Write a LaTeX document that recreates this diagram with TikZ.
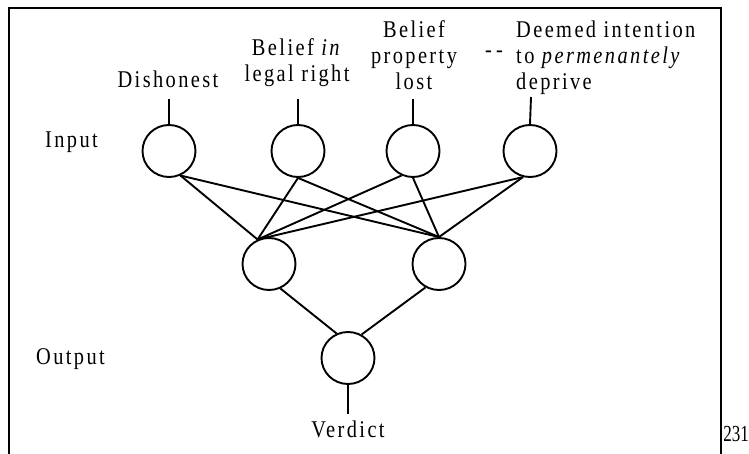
\documentclass[tikz,border=0pt]{standalone}
\usepackage{fontspec}
\setmainfont[LetterSpace=10,FakeStretch=0.85]{Liberation Serif}
\newfontfamily\plainnum[FakeStretch=0.74]{Liberation Serif}
\usetikzlibrary{shapes.geometric}
\begin{document}
\begin{tikzpicture}[x=1pt,y=-1pt,
  unit/.style={ellipse,draw,line width=1.9pt,minimum width=53pt,minimum height=52pt,inner sep=0pt},
  lbl/.style={font=\fontsize{24}{27}\selectfont,inner sep=0pt,align=center},
  link/.style={line width=1.9pt}]
\useasboundingbox (0,0) rectangle (749,454);
% frame
\draw[line width=1.6pt] (9,454) -- (9,8) -- (721,8) -- (721,454);
\node[font=\plainnum\fontsize{23}{26}\selectfont,inner sep=0pt,anchor=base east] (pg) at (749,441) {231};
% units
\node[unit] (i1) at (169,151) {};
\node[unit] (i2) at (298,151) {};
\node[unit] (i3) at (413,151) {};
\node[unit] (i4) at (530,151) {};
\node[unit] (h1) at (269,264) {};
\node[unit] (h2) at (439,264) {};
\node[unit] (o) at (348,358) {};
% labels
\node[lbl,anchor=base] (ld) at (168,88) {Dishonest};
\node[lbl,anchor=base] (ll1) at (297,56) {Belief \textit{in}};
\node[lbl,anchor=base] (ll2) at (297,82) {legal right};
\node[lbl,anchor=base] (lp1) at (414,38) {Belief};
\node[lbl,anchor=base] (lp2) at (414,64) {property};
\node[lbl,anchor=base] (lp3) at (414,90) {lost};
\node[lbl,anchor=base west] (lt1) at (516,38) {Deemed intention};
\node[lbl,anchor=base west] (lt2) at (516,64) {to \textit{permenantely}};
\node[lbl,anchor=base west] (lt3) at (516,90) {deprive};
\node[lbl,anchor=base] (dash) at (494,58) {-\,-};
\node[lbl,anchor=base west] (lin) at (45,148) {Input};
\node[lbl,anchor=base west] (lout) at (36,364) {Output};
\node[lbl,anchor=base] (lv) at (348,437) {Verdict};
% stems
\coordinate (s1) at (169,99);
\coordinate (s2) at (298,99);
\coordinate (s3) at (413,99);
\coordinate (s4) at (531,97);
\coordinate (sv) at (348,414);
\draw[link] (s1) -- (i1.north);
\draw[link] (s2) -- (i2.north);
\draw[link] (s3) -- (i3.north);
\draw[link] (s4) -- (i4.north);
\draw[link] (o.south) -- (sv);
% input to hidden
\draw[link] (i1.-65) -- (h1.115);
\draw[link] (i1.-65) -- (h2.90);
\draw[link] (i2.-90) -- (h1.115);
\draw[link] (i2.-90) -- (h2.90);
\draw[link] (i3.-115) -- (h1.115);
\draw[link] (i3.-90) -- (h2.90);
\draw[link] (i4.-105) -- (h1.115);
\draw[link] (i4.-105) -- (h2.90);
% hidden to output
\draw[link] (h1.-65) -- (o.115);
\draw[link] (h2.-120) -- (o.60);
\end{tikzpicture}
\end{document}
